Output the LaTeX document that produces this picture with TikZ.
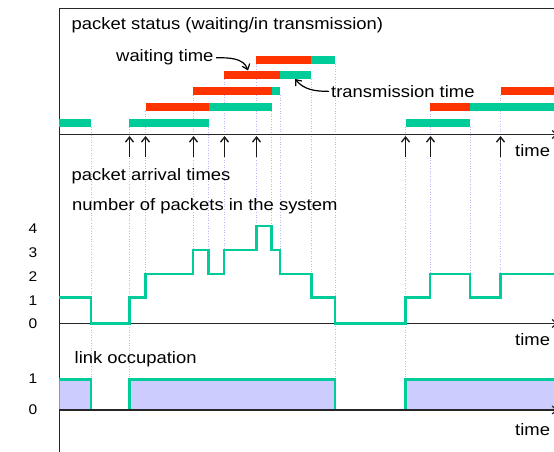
\documentclass[tikz,border=0pt]{standalone}
\usepackage{fontspec}
\setmainfont{Liberation Sans}[FakeStretch=1.11]
\usetikzlibrary{arrows.meta}
\definecolor{sendgreen}{RGB}{0,204,153}
\definecolor{waitred}{RGB}{255,51,0}
\definecolor{busyfill}{RGB}{204,204,255}
\definecolor{guide}{RGB}{185,185,250}
\begin{document}
\begin{tikzpicture}[x=1pt,y=-1pt,
  lbl/.style={font=\fontsize{16.6}{20}\selectfont, inner sep=0pt, anchor=base west},
  num/.style={font=\fontsize{14}{16}\selectfont, inner sep=0pt},
  framestroke/.style={line width=1.3pt, draw=black!85},
  timeaxis/.style={line width=1.2pt, draw=black!85, -{Straight Barb[length=4pt,width=8pt]}},
  trace/.style={draw=sendgreen, line width=2.6pt, line join=miter},
  waitbar/.style={fill=waitred},
  sendbar/.style={fill=sendgreen},
  guideline/.style={draw=guide, line width=0.8pt, dash pattern=on 1pt off 1.6pt},
  arrival/.style={line width=1.4pt, draw=black!90, -{Straight Barb[length=5pt,width=8pt]}},
  callout/.style={line width=1.2pt, -{Straight Barb[length=5pt,width=8pt]}}]
\useasboundingbox (0,0) rectangle (554,452);
\clip (0,0) rectangle (554,452);

% dotted guides from each event down to the plots
\foreach \x/\ya/\yb in {91/126.7/379.3, 129.3/126.7/379.3, 145.7/111/274,
  193/95/250, 208.5/126.7/250, 224/79/250, 256.3/63.7/226, 271.7/111/226,
  280/95/250, 311.3/79/274, 335/63.7/379.3, 405.7/126.7/379.3,
  430/111/274, 470/126.7/274, 500.7/95/274}
  \draw[guideline] (\x,\ya) -- (\x,\yb);

% frame
\draw[framestroke] (554,8.5) -- (59.3,8.5) -- (59.3,452);

% link occupation area
\fill[busyfill] (59.3,379.3) rectangle (91,410)
                (129.3,379.3) rectangle (335,410)
                (405.7,379.3) rectangle (554,410);
\draw[trace] (59.3,379.3) -- (91,379.3) -- (91,410) -- (129.3,410) -- (129.3,379.3)
  -- (335,379.3) -- (335,410) -- (405.7,410) -- (405.7,379.3) -- (556,379.3);

% time axes
\draw[timeaxis] (59.3,134.5) -- (557,134.5);
\draw[timeaxis] (59.3,323.5) -- (557,323.5);
\draw[timeaxis] (59.3,410) -- (557,410);

% number of packets in the system
\draw[trace] (59.3,297.5) -- (91,297.5) -- (91,323.5) -- (129.3,323.5) -- (129.3,297.5)
  -- (145.7,297.5) -- (145.7,274) -- (193,274) -- (193,250) -- (208.5,250)
  -- (208.5,274) -- (224,274) -- (224,250) -- (256.3,250) -- (256.3,226)
  -- (271.7,226) -- (271.7,250) -- (280,250) -- (280,274) -- (311.3,274)
  -- (311.3,297.5) -- (335,297.5) -- (335,323.5) -- (405.7,323.5) -- (405.7,297.5)
  -- (430,297.5) -- (430,274) -- (470,274) -- (470,297.5) -- (500.7,297.5)
  -- (500.7,274) -- (556,274);

% packet status bars (rows: 119, 103.3, 87.3, 71.3, 56)
\fill[sendbar] (59.3,119) rectangle (91,126.7);
\fill[sendbar] (129.3,119) rectangle (208.5,126.7);
\fill[waitbar] (145.7,103.3) rectangle (208.5,111);
\fill[sendbar] (208.5,103.3) rectangle (271.7,111);
\fill[waitbar] (193,87.3) rectangle (271.7,95);
\fill[sendbar] (271.7,87.3) rectangle (280,95);
\fill[waitbar] (224,71.3) rectangle (280,79);
\fill[sendbar] (280,71.3) rectangle (311.3,79);
\fill[waitbar] (256.3,56) rectangle (311.3,63.7);
\fill[sendbar] (311.3,56) rectangle (335,63.7);
\fill[sendbar] (405.7,119) rectangle (470,126.7);
\fill[waitbar] (430,103.3) rectangle (470,111);
\fill[sendbar] (470,103.3) rectangle (556,111);
\fill[waitbar] (500.7,87.3) rectangle (556,95);

% packet arrivals
\foreach \x in {129.5,145.5,193.5,224.5,256.5,405.5,430.5,500.5}
  \draw[arrival] (\x,157) -- (\x,136);

% labels
\node[lbl] (title) at (71.5,29.5) {packet status (waiting/in transmission)};
\node[lbl] (wt) at (116,62) {waiting time};
\node[lbl] (tt) at (331,97.3) {transmission time};
\node[lbl] (arrlbl) at (71.5,180) {packet arrival times};
\node[lbl] (cntlbl) at (72,210.7) {number of packets in the system};
\node[lbl] (linklbl) at (74.5,363.3) {link occupation};
\node[lbl] (timeA) at (515,156) {time};
\node[lbl] (timeB) at (515,345) {time};
\node[lbl] (timeC) at (515,435) {time};

\coordinate (wtip) at (248,70.5);
\coordinate (ttip) at (295,79);
\draw[callout] ([xshift=2.5pt]wt.east) to[out=0,in=110] (wtip);
\draw[callout] ([xshift=-2pt]tt.west) to[out=180,in=-50] (ttip);

% value scales
\node[num] (n4) at (33,229) {4};
\node[num] (n3) at (33,253) {3};
\node[num] (n2) at (33,277) {2};
\node[num] (n1) at (33,300.5) {1};
\node[num] (n0) at (33,324) {0};
\node[num] (l1) at (33,379) {1};
\node[num] (l0) at (33,410) {0};
\end{tikzpicture}
\end{document}
